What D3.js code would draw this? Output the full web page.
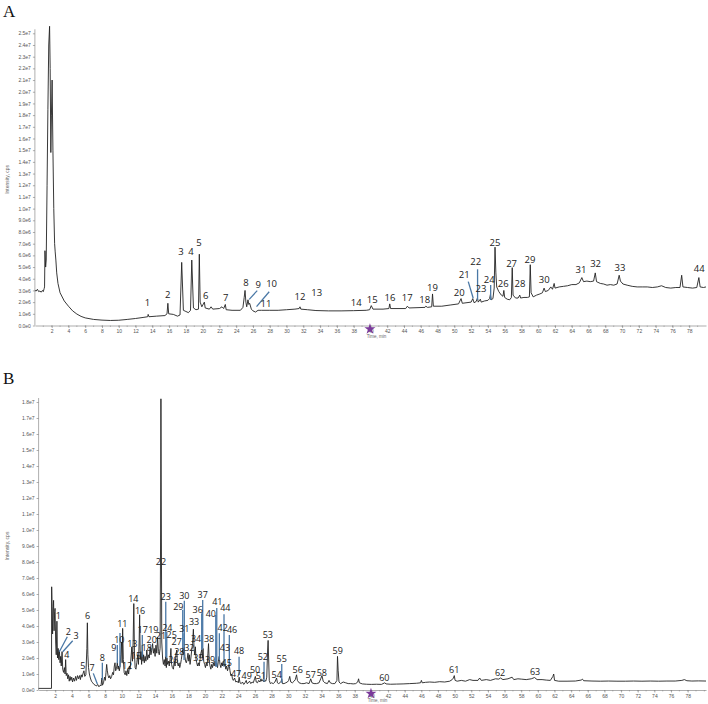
<!DOCTYPE html>
<html>
<head>
<meta charset="utf-8">
<script src="https://cdn.jsdelivr.net/npm/d3@7"></script>
<style>
  body { margin: 0; background: #fff; }
  .axis text { font-family: "Liberation Sans", Arial, sans-serif; font-size: 5px; fill: #555; }
  .axis path, .axis line { stroke: #777; stroke-width: 0.6; }
  .peak { font-family: "Open Sans", sans-serif; fill: #222; }
  .panel { font-family: "Liberation Serif", serif; font-size: 17px; fill: #111; }
</style>
</head>
<body>
<div id="chart"></div>
<script>
'use strict';

// chromatogram A: [time (min), intensity (x1e6 cps)]
const traceA = [
  [0,3.0],[0.15,2.95],[0.3,3.1],[0.45,2.9],[0.6,2.95],[0.75,2.85],[0.9,3.0],[1.0,2.9],[1.1,3.15],[1.15,3.3],
  [1.2,6.4],[1.28,5.0],[1.35,5.6],[1.45,12],[1.55,18.5],[1.65,24.0],[1.75,25.6],[1.82,22.0],[1.9,14.8],[1.97,18.0],
  [2.05,21.0],[2.15,15.0],[2.25,10.0],[2.35,7.0],[2.42,6.3],[2.5,5.6],[2.6,4.5],[2.75,3.6],[3.0,2.8],[3.5,2.1],
  [4.0,1.65],[4.5,1.25],[5.0,0.98],[5.5,0.78],[6.0,0.65],[7.0,0.52],[8.0,0.46],[9.0,0.43],[10.0,0.45],[11.0,0.52],
  [12.0,0.6],[13.0,0.7],[13.45,0.75],[13.5,0.95],[13.6,0.75],[14.5,0.8],[15.5,0.85],[15.75,1.0],[15.85,1.9],[15.95,1.0],
  [16.5,0.95],[17.0,0.8],[17.3,0.9],[17.5,5.4],[17.7,1.3],[18.0,1.2],[18.3,1.1],[18.55,1.3],[18.7,5.6],[18.9,1.5],
  [19.2,1.35],[19.5,1.4],[19.6,6.1],[19.7,2.0],[19.9,1.6],[20.2,2.0],[20.3,1.5],[20.8,1.4],[21.0,1.6],[21.2,1.4],
  [22.0,1.45],[22.3,1.6],[22.5,1.45],[22.7,1.8],[22.8,1.35],[23.5,1.3],[24.5,1.3],[24.8,1.55],[24.95,2.4],[25.05,3.0],
  [25.15,2.0],[25.25,1.6],[25.4,2.2],[25.5,1.8],[25.6,1.9],[25.8,1.4],[26.0,1.25],[26.3,1.15],[26.6,1.3],[27.0,1.3],
  [28.0,1.3],[29.0,1.3],[30.0,1.35],[31.0,1.4],[31.5,1.45],[31.6,1.6],[31.7,1.4],[32.5,1.35],[33.5,1.28],[35,1.25],
  [36.5,1.25],[38,1.27],[39.5,1.3],[39.9,1.35],[40.1,1.7],[40.3,1.4],[41.5,1.4],[42.2,1.45],[42.3,1.85],[42.4,1.45],
  [44.2,1.45],[44.4,1.65],[44.6,1.5],[46.5,1.55],[46.6,1.65],[46.8,1.55],[47.3,1.6],[47.4,2.7],[47.5,1.65],[48.5,1.65],
  [49.5,1.75],[50.5,1.85],[50.8,2.3],[50.95,1.9],[52.0,2.0],[52.2,2.3],[52.35,1.95],[52.6,2.05],[52.75,2.35],[52.85,2.0],
  [53.1,2.25],[53.2,2.0],[53.6,2.1],[54.0,2.15],[54.2,2.3],[54.3,2.65],[54.4,2.2],[54.6,2.3],[54.75,3.2],[54.85,6.7],
  [54.95,4.5],[55.05,3.3],[55.3,2.9],[55.6,2.6],[55.8,2.5],[55.9,3.0],[56.0,2.4],[56.3,2.25],[56.6,2.2],[56.8,2.4],
  [56.9,4.95],[57.0,2.6],[57.3,2.35],[57.6,2.35],[57.8,2.6],[57.9,2.35],[58.3,2.4],[58.7,2.4],[58.95,2.45],[59.05,5.2],
  [59.15,2.8],[59.4,2.45],[59.8,2.6],[60.2,2.7],[60.5,2.8],[60.7,3.2],[60.85,2.9],[61.2,3.0],[61.5,3.3],[61.7,3.1],
  [61.9,3.6],[62.0,3.2],[62.5,3.3],[63.0,3.35],[63.5,3.4],[64.0,3.5],[64.5,3.5],[64.9,3.65],[65.2,4.1],[65.4,3.75],
  [65.8,3.8],[66.2,3.75],[66.6,3.8],[66.8,4.5],[66.95,3.75],[67.4,3.6],[67.8,3.55],[68.2,3.45],[68.6,3.5],[69.0,3.45],
  [69.4,3.55],[69.65,4.3],[69.8,3.8],[70.1,3.55],[70.6,3.45],[71.2,3.35],[71.8,3.3],[72.4,3.3],[73.0,3.3],[73.6,3.25],
  [74.2,3.3],[74.7,3.4],[75.2,3.25],[75.8,3.2],[76.4,3.25],[76.9,3.25],[77.1,4.3],[77.25,3.3],[77.8,3.25],[78.4,3.2],
  [78.9,3.25],[79.15,4.1],[79.3,3.3],[79.7,3.25],[80.0,3.3]
];

// chromatogram B: [time (min), intensity (x1e6 cps)]
const traceB = [
  [0,0.1],[1.55,0.1],[1.57,6.45],[1.62,5.2],[1.68,3.5],[1.74,5.0],[1.8,5.6],[1.86,3.7],[1.93,4.9],[1.98,5.1],
  [2.05,3.0],[2.12,2.2],[2.2,4.3],[2.27,2.0],[2.35,2.6],[2.42,1.9],[2.5,2.45],[2.58,1.7],[2.65,2.1],[2.72,1.5],
  [2.82,2.4],[2.9,1.3],[3.0,1.1],[3.1,1.4],[3.18,1.0],[3.25,1.9],[3.32,0.9],[3.42,1.05],[3.5,0.7],[3.6,0.95],
  [3.68,0.55],[3.78,0.85],[3.88,0.6],[3.98,0.8],[4.08,0.5],[4.2,0.75],[4.32,0.55],[4.45,0.85],[4.55,0.6],[4.68,0.9],
  [4.8,0.7],[4.92,0.9],[5.02,0.65],[5.12,0.95],[5.22,0.8],[5.35,1.05],[5.45,1.2],[5.55,0.85],[5.68,0.95],[5.8,2.6],
  [5.86,4.2],[5.92,2.2],[6.0,1.4],[6.1,1.0],[6.22,0.75],[6.35,0.55],[6.5,0.45],[6.65,0.35],[6.8,0.3],[6.95,0.25],
  [7.1,0.35],[7.25,0.2],[7.4,0.3],[7.5,0.25],[7.6,0.75],[7.68,0.3],[7.8,0.45],[7.92,0.8],[8.02,0.6],[8.1,1.1],
  [8.18,1.6],[8.26,1.2],[8.35,0.9],[8.45,0.75],[8.55,0.9],[8.65,0.7],[8.78,0.85],[8.9,1.1],[9.0,0.95],[9.1,1.5],
  [9.18,1.7],[9.26,1.2],[9.36,1.35],[9.46,1.7],[9.55,1.3],[9.62,1.5],[9.7,1.2],[9.78,1.45],[9.88,2.2],[9.98,3.0],
  [10.04,1.7],[10.1,3.85],[10.18,1.9],[10.28,1.1],[10.4,0.95],[10.5,1.2],[10.6,0.9],[10.72,1.3],[10.82,1.0],[10.92,1.5],
  [11.0,1.3],[11.1,2.0],[11.2,2.7],[11.28,1.8],[11.36,3.0],[11.44,5.4],[11.52,2.3],[11.6,1.4],[11.7,1.3],[11.8,1.7],
  [11.9,2.2],[12.0,1.6],[12.08,3.0],[12.14,4.7],[12.22,1.9],[12.3,2.4],[12.38,1.6],[12.46,2.8],[12.54,1.8],[12.62,2.2],
  [12.7,1.7],[12.8,2.1],[12.9,1.8],[13.0,2.5],[13.1,1.9],[13.2,2.2],[13.3,2.0],[13.4,2.7],[13.5,2.2],[13.6,2.5],
  [13.7,2.9],[13.8,2.3],[13.9,2.6],[14.0,2.1],[14.1,2.8],[14.2,2.3],[14.3,3.3],[14.4,2.4],[14.5,2.2],[14.6,2.6],
  [14.66,10.0],[14.7,18.2],[14.74,12.0],[14.8,3.0],[14.9,2.0],[15.0,1.6],[15.1,1.9],[15.2,1.5],[15.28,2.1],[15.35,1.4],
  [15.42,2.0],[15.5,1.6],[15.6,1.8],[15.7,1.5],[15.8,1.9],[15.9,2.6],[15.98,1.6],[16.08,1.4],[16.2,1.3],[16.3,1.8],
  [16.4,1.5],[16.5,2.2],[16.6,2.5],[16.68,1.7],[16.78,1.5],[16.88,1.7],[16.96,1.4],[17.05,1.6],[17.15,1.9],[17.25,2.3],
  [17.32,2.5],[17.4,2.2],[17.5,2.7],[17.58,2.1],[17.66,1.8],[17.75,1.7],[17.85,1.9],[17.95,2.3],[18.05,1.8],[18.12,2.2],
  [18.2,1.6],[18.3,2.0],[18.4,2.5],[18.5,2.9],[18.6,3.8],[18.68,2.6],[18.76,2.2],[18.84,2.7],[18.92,1.9],[19.0,1.7],
  [19.1,1.5],[19.2,1.7],[19.3,1.5],[19.4,1.9],[19.5,2.3],[19.6,2.5],[19.68,2.0],[19.76,2.6],[19.84,1.8],[19.95,1.6],
  [20.05,1.4],[20.15,1.7],[20.25,1.5],[20.35,2.3],[20.42,2.9],[20.5,1.8],[20.6,1.5],[20.7,1.3],[20.8,1.6],[20.9,1.4],
  [21.0,1.7],[21.1,1.5],[21.2,1.8],[21.3,1.5],[21.4,1.7],[21.5,1.4],[21.6,1.8],[21.7,2.1],[21.8,1.6],[21.9,1.4],
  [22.0,1.7],[22.1,1.5],[22.2,1.8],[22.3,1.5],[22.4,1.6],[22.5,1.3],[22.6,1.5],[22.7,1.2],[22.8,1.4],[22.9,1.6],
  [23.0,1.2],[23.1,0.9],[23.2,1.0],[23.3,0.7],[23.4,0.6],[23.55,0.75],[23.7,0.5],[23.85,0.55],[24.0,0.45],[24.1,0.8],
  [24.2,0.45],[24.35,0.4],[24.5,0.5],[24.65,0.35],[24.8,0.45],[24.95,0.6],[25.05,0.4],[25.2,0.45],[25.35,0.55],[25.5,0.4],
  [25.65,0.5],[25.8,0.45],[25.95,0.7],[26.05,0.85],[26.15,0.5],[26.3,0.45],[26.45,0.6],[26.6,0.5],[26.72,0.7],[26.82,0.55],
  [26.95,0.65],[27.08,0.5],[27.2,0.6],[27.3,0.55],[27.42,0.8],[27.52,2.5],[27.58,3.1],[27.64,2.0],[27.72,0.6],[27.85,0.4],
  [28.0,0.45],[28.2,0.4],[28.4,0.5],[28.6,0.75],[28.7,0.45],[28.85,0.4],[29.0,0.45],[29.15,0.55],[29.22,0.7],[29.3,0.4],
  [29.5,0.4],[29.7,0.45],[29.9,0.5],[30.05,0.6],[30.18,0.85],[30.3,0.5],[30.5,0.45],[30.7,0.55],[30.85,0.65],[31.0,0.95],
  [31.1,0.6],[31.3,0.45],[31.6,0.4],[31.9,0.4],[32.2,0.45],[32.5,0.4],[32.7,0.7],[32.85,0.45],[33.1,0.4],[33.4,0.4],
  [33.7,0.45],[33.9,0.7],[34.05,0.9],[34.2,0.55],[34.4,0.45],[34.7,0.4],[34.9,0.6],[35.05,0.45],[35.3,0.4],[35.6,0.4],
  [35.85,0.6],[35.92,2.1],[36.0,1.2],[36.1,0.5],[36.3,0.4],[36.6,0.5],[36.9,0.45],[37.2,0.4],[37.5,0.4],[37.8,0.38],
  [38.1,0.4],[38.35,0.5],[38.45,0.7],[38.55,0.45],[38.9,0.38],[39.4,0.36],[40.0,0.35],[40.6,0.36],[41.2,0.35],[41.6,0.45],
  [41.75,0.38],[42.3,0.36],[43.0,0.37],[43.8,0.38],[44.6,0.4],[45.4,0.42],[45.9,0.45],[46.0,0.6],[46.1,0.45],[46.5,0.48],
  [47.0,0.5],[47.6,0.48],[48.2,0.52],[48.8,0.5],[49.4,0.55],[49.7,0.65],[49.85,0.75],[49.95,0.9],[50.05,0.6],[50.3,0.55],
  [50.8,0.6],[51.3,0.55],[51.8,0.65],[52.2,0.6],[52.8,0.6],[53.0,0.75],[53.2,0.6],[53.8,0.65],[54.3,0.6],[54.9,0.7],
  [55.3,0.68],[55.5,0.75],[55.8,0.65],[56.4,0.7],[56.9,0.8],[57.1,0.65],[57.6,0.7],[58.0,0.68],[58.6,0.65],[59.2,0.7],
  [59.6,0.78],[59.9,0.65],[60.5,0.65],[61.0,0.62],[61.5,0.6],[61.8,0.85],[61.9,1.0],[62.0,0.6],[62.5,0.55],[63.5,0.55],
  [64.5,0.56],[65.2,0.62],[65.35,0.68],[65.5,0.58],[66.5,0.56],[67.5,0.55],[68.5,0.56],[69.5,0.55],[70.5,0.55],[71.5,0.56],
  [72.5,0.55],[73.5,0.56],[74.5,0.55],[75.5,0.56],[76.5,0.56],[77.3,0.6],[77.6,0.65],[77.9,0.58],[78.5,0.56],[79.3,0.57],
  [80.2,0.56]
];

// peak labels: [label, time, intensity] (label centre in data units)
const labelsA = [
  ['1',13.43,1.98],['2',15.83,2.61],['3',17.41,6.31],['4',18.6,6.31],['5',19.56,7.06],['6',20.36,2.55],
  ['7',22.74,2.41],['8',25.16,3.66],['9',26.63,3.52],['10',28.22,3.61],['11',27.54,1.9],['12',31.6,2.46],
  ['13',33.59,2.81],['14',38.31,1.98],['15',40.21,2.18],['16',42.32,2.41],['17',44.39,2.38],['18',46.48,2.24],
  ['19',47.4,3.27],['20',50.58,2.84],['21',51.18,4.32],['22',52.54,5.46],['23',53.17,3.12],['24',54.16,3.89],
  ['25',54.84,7.06],['26',55.83,3.55],['27',56.83,5.32],['28',57.82,3.55],['29',59.01,5.66],['30',60.71,3.95],
  ['31',65.09,4.81],['32',66.84,5.32],['33',69.74,4.94],['44',79.19,4.89]
];
// leader lines: [t1, i1, t2, i2]
const leadersA = [
  [26.5,2.98,25.55,2.24],[27.93,2.89,26.42,1.61],[51.66,3.75,52.25,2.33],
  [52.77,4.81,52.77,2.18],[54.33,3.46,54.33,2.18]
];

const labelsB = [
  ['1',2.37,4.63],['2',3.57,3.64],['3',4.5,3.38],['4',3.38,2.19],['5',5.3,1.52],['6',5.9,4.64],
  ['7',6.42,1.42],['8',7.66,2.02],['9',9.03,2.61],['10',9.7,3.13],['11',10.06,4.13],['12',10.63,1.52],
  ['13',11.26,2.88],['14',11.38,5.73],['15',11.71,2.13],['16',12.19,4.98],['17',12.51,3.75],['18',12.99,2.64],
  ['19',13.79,3.75],['20',13.59,3.17],['21',14.71,3.38],['22',14.71,8.02],['23',15.28,5.83],['24',15.47,3.92],
  ['25',16.0,3.44],['26',16.19,1.92],['27',16.6,3.02],['28',16.91,2.39],['29',16.79,5.21],['30',17.51,5.88],
  ['31',17.51,3.81],['32',18.11,2.64],['33',18.68,4.27],['34',18.92,3.19],['35',19.19,2.04],['36',19.12,5.04],
  ['37',19.72,5.94],['38',20.48,3.23],['39',20.6,1.88],['40',20.69,4.79],['41',21.48,5.52],['42',22.13,3.92],
  ['43',22.4,2.64],['44',22.44,5.11],['45',22.61,1.71],['46',23.25,3.75],['47',23.73,1.0],['48',24.09,2.44],
  ['49',25.01,0.88],['50',26.01,1.29],['51',26.7,0.88],['52',26.94,2.08],['53',27.54,3.44],['54',28.62,0.98],
  ['55',29.22,1.98],['56',31.14,1.25],['57',32.7,0.94],['58',34.03,1.08],['59',35.95,2.44],['60',41.55,0.77],
  ['61',49.95,1.25],['62',55.46,1.08],['63',59.66,1.11]
];
const leadersB = [
  [3.45,3.33,2.49,2.39],[4.1,3.08,2.9,2.39],[6.57,1.04,7.06,0.38],[7.66,1.71,7.66,0.63],
  [9.46,2.81,9.46,1.67],[9.78,3.56,9.78,1.44],[12.46,3.44,12.46,2.08],[15.28,5.52,15.28,2.08],
  [15.4,3.64,15.4,1.98],[17.32,5.0,17.32,2.5],[17.51,5.58,17.51,2.71],[17.48,3.54,17.48,1.88],
  [19.6,4.79,19.6,2.5],[19.72,5.63,19.72,2.6],[21.29,4.69,21.29,1.46],[21.41,5.13,21.41,1.46],
  [21.72,3.54,21.72,1.88],[22.28,4.73,22.28,1.46],[22.92,3.44,22.92,1.46],[24.09,2.08,24.09,0.94],
  [27.09,1.77,27.09,0.52],[29.22,1.63,29.22,0.46]
];

const xTicks = [2,4,6,8,10,12,14,16,18,20,22,24,26,28,30,32,34,36,38,40,42,44,46,48,50,52,54,56,58,60,62,64,66,68,70,72,74,76,78];
const yTicksA = [0,1,2,3,4,5,6,7,8,9,10,11,12,13,14,15,16,17,18,19,20,21,22,23,24,25];
const yTicksB = [0,1,2,3,4,5,6,7,8,9,10,11,12,13,14,15,16,17,18];

const W = 708, H = 704;
const svg = d3.select('#chart').append('svg').attr('width', W).attr('height', H);

function sciFormat(v) {
  return d3.format('.1e')(v * 1e6).replace('+', '');
}

function drawPanel(opt) {
  const x = d3.scaleLinear().domain([0, opt.tMax]).range([opt.left, opt.right]);
  const y = d3.scaleLinear().domain([0, opt.yMax]).range([opt.bottom, opt.top]);

  const g = svg.append('g');

  // minor x ticks every minute
  g.append('g').selectAll('line')
    .data(d3.range(1, opt.tMax, 1))
    .enter().append('line')
    .attr('x1', d => x(d)).attr('x2', d => x(d))
    .attr('y1', opt.bottom).attr('y2', opt.bottom + 1.5)
    .attr('stroke', '#888').attr('stroke-width', 0.5);

  g.append('g').attr('class', 'axis')
    .attr('transform', 'translate(0,' + opt.bottom + ')')
    .call(d3.axisBottom(x).tickValues(xTicks).tickSize(2.5).tickSizeOuter(0).tickPadding(1.5));

  const ya = g.append('g').attr('class', 'axis')
    .attr('transform', 'translate(' + opt.left + ',0)')
    .call(d3.axisLeft(y).tickValues(opt.yTicks).tickFormat(sciFormat).tickSize(2).tickSizeOuter(0).tickPadding(2));
  ya.select('.domain').attr('d', 'M0,' + (opt.top - 4) + 'V' + opt.bottom);

  g.append('text')
    .attr('transform', 'translate(9,' + ((opt.top + opt.bottom) / 2) + ') rotate(-90)')
    .attr('text-anchor', 'middle')
    .style('font-family', 'Liberation Sans, Arial, sans-serif')
    .style('font-size', '5px').style('fill', '#666')
    .text('Intensity, cps');

  g.append('text')
    .attr('x', x(40) + 6).attr('y', opt.bottom + 12)
    .attr('text-anchor', 'middle')
    .style('font-family', 'Liberation Sans, Arial, sans-serif')
    .style('font-size', '4.5px').style('fill', '#666')
    .text('Time, min');

  g.append('path')
    .attr('d', d3.symbol(d3.symbolStar, 38)())
    .attr('transform', 'translate(' + (x(40) - 0.5) + ',' + (opt.bottom + 3.5) + ')')
    .attr('fill', '#7a3a9a');

  const line = d3.line().x(d => x(d[0])).y(d => y(d[1]));
  g.append('path')
    .datum(opt.trace)
    .attr('d', line)
    .attr('fill', 'none')
    .attr('stroke', '#222')
    .attr('stroke-width', 0.9)
    .attr('stroke-linejoin', 'round');

  g.append('g').selectAll('line')
    .data(opt.leaders)
    .enter().append('line')
    .attr('x1', d => x(d[0])).attr('y1', d => y(d[1]))
    .attr('x2', d => x(d[2])).attr('y2', d => y(d[3]))
    .attr('stroke', '#4a78a6')
    .attr('stroke-width', 1.3);

  g.append('g').selectAll('text')
    .data(opt.labels)
    .enter().append('text')
    .attr('class', 'peak')
    .style('font-size', opt.labelSize + 'px')
    .attr('x', d => x(d[1]))
    .attr('y', d => y(d[2]))
    .attr('dy', '0.36em')
    .attr('text-anchor', 'middle')
    .text(d => d[0]);

  svg.append('text').attr('class', 'panel')
    .attr('x', 3).attr('y', opt.panelY)
    .text(opt.name);
}

drawPanel({
  name: 'A', panelY: 17, trace: traceA, labels: labelsA, leaders: leadersA,
  tMax: 80, yMax: 25, yTicks: yTicksA, labelSize: 9.5,
  left: 34.9, right: 706, top: 33.3, bottom: 325.5
});

drawPanel({
  name: 'B', panelY: 384, trace: traceB, labels: labelsB, leaders: leadersB,
  tMax: 80.2, yMax: 18, yTicks: yTicksB, labelSize: 9,
  left: 38.6, right: 706, top: 402, bottom: 690
});
</script>
</body>
</html>
